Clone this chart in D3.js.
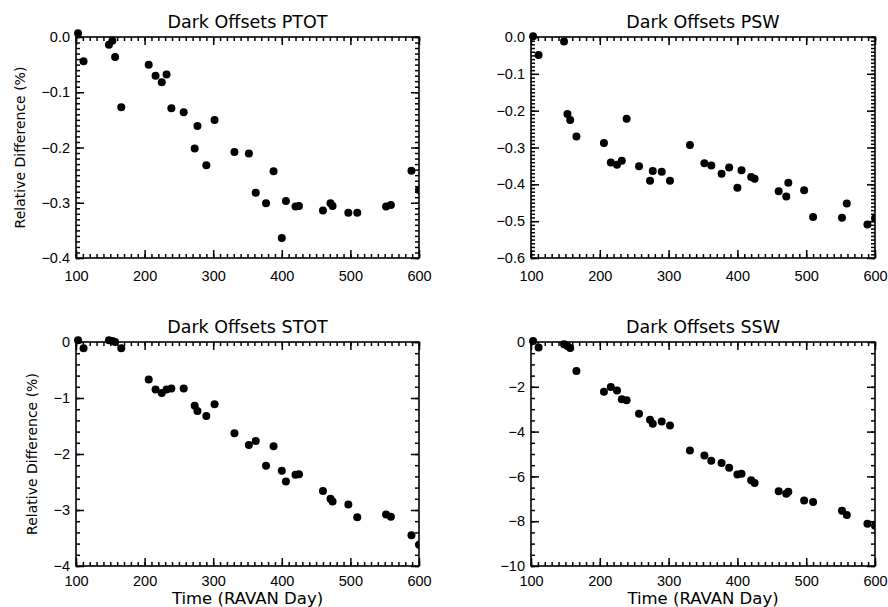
<!DOCTYPE html>
<html>
<head>
	<meta charset="utf-8">
	<title>Dark Offsets</title>
	<script src="https://cdn.jsdelivr.net/npm/d3@7"></script>
	<style>
		body {
			margin: 0;
			background: #fff;
		}

		svg {
			font-family: "DejaVu Sans", sans-serif;
		}

		.tick line {
			stroke: #000;
			stroke-width: 1.5;
		}

		.domain {
			stroke: none;
		}
	</style>
</head>
<body>
	<svg width="888" height="607"></svg>

	<script>
		var days = [103, 111, 148, 153, 157, 166, 206, 216, 225, 232, 239, 257, 273, 277, 290, 302, 331,
			352, 362, 377, 388, 400, 406, 420, 425, 460, 471, 474, 497, 510, 552, 559, 589, 600];

		var ptot = [0.007, -0.044, -0.014, -0.007, -0.036, -0.127, -0.050, -0.070, -0.082, -0.068, -0.129,
			-0.136, -0.202, -0.161, -0.232, -0.150, -0.208, -0.211, -0.282, -0.301, -0.243, -0.364, -0.297,
			-0.307, -0.306, -0.314, -0.301, -0.306, -0.318, -0.318, -0.307, -0.304, -0.242, -0.277];

		var psw = [0.002, -0.049, -0.012, -0.209, -0.225, -0.270, -0.288, -0.341, -0.347, -0.336, -0.222,
			-0.351, -0.390, -0.364, -0.366, -0.390, -0.293, -0.343, -0.349, -0.371, -0.354, -0.409, -0.362,
			-0.380, -0.385, -0.419, -0.433, -0.396, -0.416, -0.489, -0.491, -0.452, -0.509, -0.492];

		var stot = [0.03, -0.11, 0.03, 0.02, 0.0, -0.11, -0.67, -0.85, -0.91, -0.85, -0.83, -0.83, -1.14,
			-1.23, -1.32, -1.11, -1.63, -1.84, -1.77, -2.21, -1.86, -2.30, -2.49, -2.37, -2.36, -2.66, -2.80,
			-2.85, -2.90, -3.13, -3.08, -3.12, -3.45, -3.62];

		var ssw = [0.04, -0.25, -0.10, -0.18, -0.27, -1.30, -2.22, -2.01, -2.17, -2.56, -2.60, -3.20, -3.47,
			-3.65, -3.55, -3.73, -4.84, -5.07, -5.30, -5.40, -5.61, -5.91, -5.88, -6.17, -6.29, -6.66, -6.77,
			-6.69, -7.08, -7.14, -7.53, -7.72, -8.11, -8.20];

		var xTicks = [100, 200, 300, 400, 500, 600];

		var svg = d3.select("svg");

		// panel boxes in pixels
		var panels = [
			{ id: "p1", title: "Dark Offsets PTOT", values: ptot, yDomain: [-0.4, 0], yStep: 0.1, yMinor: 0.01, fmt: ".1f", ytitle: true, xtitle: false, x0: 76, x1: 419, y0: 37, y1: 258, pad: 13 },
			{ id: "p2", title: "Dark Offsets PSW", values: psw, yDomain: [-0.6, 0], yStep: 0.1, yMinor: 0.01, fmt: ".1f", ytitle: false, xtitle: false, x0: 531, x1: 875, y0: 37, y1: 258, pad: 13 },
			{ id: "p3", title: "Dark Offsets STOT", values: stot, yDomain: [-4, 0], yStep: 1, yMinor: 0.2, fmt: "d", ytitle: true, xtitle: true, x0: 76, x1: 419, y0: 342, y1: 566, pad: 10 },
			{ id: "p4", title: "Dark Offsets SSW", values: ssw, yDomain: [-10, 0], yStep: 2, yMinor: 0.5, fmt: "d", ytitle: false, xtitle: true, x0: 531, x1: 875, y0: 342, y1: 566, pad: 10 }
		];

		panels.forEach(drawPanel);

		function stepRange(lo, hi, step) {
			var n = Math.round((hi - lo) / step);
			return d3.range(n + 1).map(function(i) {
				return +(lo + i * step).toFixed(6);
			});
		}

		function drawPanel(p) {
			var x = d3.scaleLinear().domain([100, 600]).range([p.x0, p.x1]);
			var y = d3.scaleLinear().domain(p.yDomain).range([p.y1, p.y0]);

			var xMinor = stepRange(100, 600, 10);
			var yMajor = stepRange(p.yDomain[0], p.yDomain[1], p.yStep);
			var yMinor = stepRange(p.yDomain[0], p.yDomain[1], p.yMinor);

			var g = svg.append("g");

			g.append("clipPath")
				.attr("id", "clip-" + p.id)
				.append("rect")
				.attr("x", p.x0 - 12)
				.attr("y", p.y0 - 12)
				.attr("width", p.x1 - p.x0 + 12)
				.attr("height", p.y1 - p.y0 + 24);

			var trans = {
				bottom: "translate(0," + p.y1 + ")",
				top: "translate(0," + p.y0 + ")",
				left: "translate(" + p.x0 + ",0)",
				right: "translate(" + p.x1 + ",0)"
			};

			// minor ticks, pointing inward on all four sides
			g.append("g").attr("transform", trans.bottom)
				.call(d3.axisBottom(x).tickValues(xMinor).tickSize(-4).tickSizeOuter(0).tickFormat(""));
			g.append("g").attr("transform", trans.top)
				.call(d3.axisTop(x).tickValues(xMinor).tickSize(-4).tickSizeOuter(0).tickFormat(""));
			g.append("g").attr("transform", trans.left)
				.call(d3.axisLeft(y).tickValues(yMinor).tickSize(-4).tickSizeOuter(0).tickFormat(""));
			g.append("g").attr("transform", trans.right)
				.call(d3.axisRight(y).tickValues(yMinor).tickSize(-4).tickSizeOuter(0).tickFormat(""));

			// major ticks
			g.append("g").attr("transform", trans.bottom)
				.call(d3.axisBottom(x).tickValues(xTicks).tickSize(-8).tickSizeOuter(0).tickPadding(p.pad).tickFormat(d3.format("d")));
			g.append("g").attr("transform", trans.top)
				.call(d3.axisTop(x).tickValues(xTicks).tickSize(-8).tickSizeOuter(0).tickFormat(""));
			var yAxis = g.append("g").attr("transform", trans.left)
				.call(d3.axisLeft(y).tickValues(yMajor).tickSize(-8).tickSizeOuter(0).tickPadding(6).tickFormat(d3.format(p.fmt)));
			g.append("g").attr("transform", trans.right)
				.call(d3.axisRight(y).tickValues(yMajor).tickSize(-8).tickSizeOuter(0).tickFormat(""));

			g.selectAll(".tick text")
				.attr("fill", "#000")
				.style("font-size", "14.5px");

			g.append("rect")
				.attr("x", p.x0)
				.attr("y", p.y0)
				.attr("width", p.x1 - p.x0)
				.attr("height", p.y1 - p.y0)
				.attr("fill", "none")
				.attr("stroke", "#000")
				.attr("stroke-width", 1.6);

			g.append("text")
				.attr("x", (p.x0 + p.x1) / 2)
				.attr("y", p.y0 - 9)
				.attr("text-anchor", "middle")
				.style("font-size", "17.5px")
				.text(p.title);

			g.append("g")
				.attr("clip-path", "url(#clip-" + p.id + ")")
				.selectAll("circle")
				.data(days)
				.enter().append("circle")
				.attr("cx", function(d) { return x(d); })
				.attr("cy", function(d, i) { return y(p.values[i]); })
				.attr("r", 4)
				.attr("fill", "#000");

			if (p.ytitle) {
				var left = d3.min(yAxis.selectAll(".tick text").nodes(), function(n) {
					return n.getBBox().x;
				}) + p.x0;
				g.append("text")
					.attr("transform", "translate(" + (left - 16) + "," + (p.y0 + p.y1) / 2 + ") rotate(-90)")
					.attr("text-anchor", "middle")
					.style("font-size", "14px")
					.text("Relative Difference (%)");
			}

			if (p.xtitle) {
				g.append("text")
					.attr("x", (p.x0 + p.x1) / 2)
					.attr("y", 604)
					.attr("text-anchor", "middle")
					.style("font-size", "16.5px")
					.text("Time (RAVAN Day)");
			}
		}
	</script>
</body>
</html>
